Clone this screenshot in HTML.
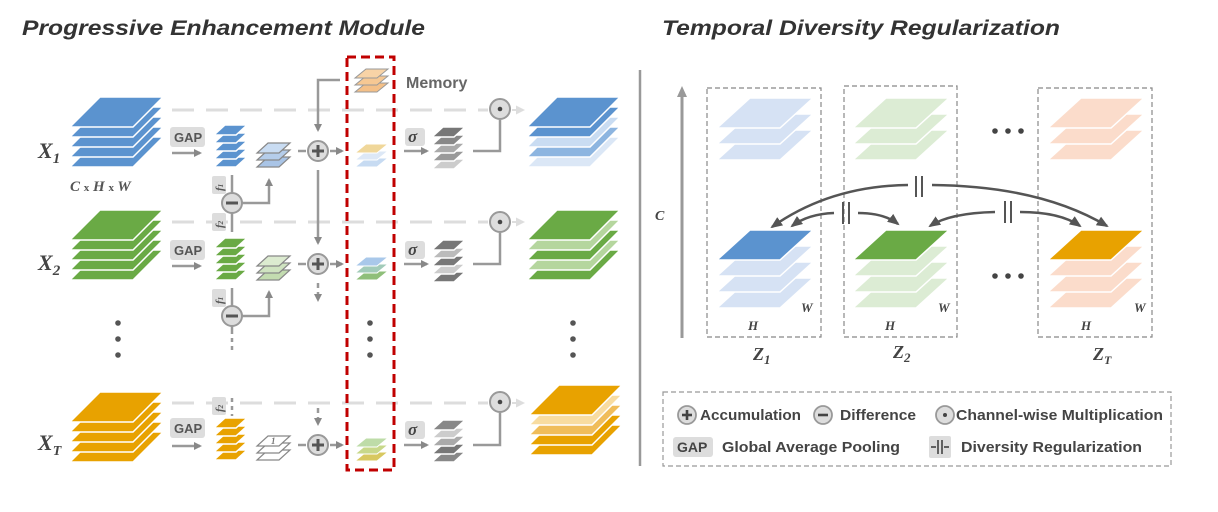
<!DOCTYPE html>
<html><head><meta charset="utf-8"><style>
html,body{margin:0;padding:0;background:#fff;}
svg{display:block;}
text{font-family:"Liberation Sans",sans-serif;}
.ser{font-family:"Liberation Serif",serif;font-style:italic;font-weight:bold;}
</style></head><body>
<svg id="s" width="1218" height="512" viewBox="0 0 1218 512" xmlns="http://www.w3.org/2000/svg">
<defs>
<marker id="ah" markerWidth="8" markerHeight="8" refX="6" refY="4" orient="auto" markerUnits="userSpaceOnUse"><path d="M0,0 L8,4 L0,8 z" fill="#888"/></marker>
<marker id="ahd" markerWidth="12" markerHeight="10" refX="10" refY="5" orient="auto" markerUnits="userSpaceOnUse"><path d="M0,0 L12,5 L0,10 z" fill="#555"/></marker>
<marker id="ahl" markerWidth="9" markerHeight="9" refX="6" refY="4.5" orient="auto" markerUnits="userSpaceOnUse"><path d="M0,0 L9,4.5 L0,9 z" fill="#ddd"/></marker>
</defs>
<g id="shapes"></g>

<!-- titles -->
<text x="22" y="35" font-size="21" font-weight="bold" font-style="italic" fill="#333" textLength="403" lengthAdjust="spacingAndGlyphs">Progressive Enhancement Module</text>
<text x="662" y="35" font-size="21" font-weight="bold" font-style="italic" fill="#333" textLength="398" lengthAdjust="spacingAndGlyphs">Temporal Diversity Regularization</text>

<!-- separator -->
<line x1="640" y1="70" x2="640" y2="466" stroke="#999" stroke-width="2.5"/>

<!-- dashed light lines -->
<g stroke="#ddd" stroke-width="3" stroke-dasharray="22,12" fill="none">
<line x1="172" y1="110" x2="488" y2="110"/>
<line x1="172" y1="222" x2="488" y2="222"/>
<line x1="172" y1="403" x2="488" y2="403"/>
</g>
<g stroke="#ddd" stroke-width="2" marker-end="url(#ahl)">
<line x1="512" y1="110" x2="522" y2="110"/>
<line x1="512" y1="222" x2="522" y2="222"/>
<line x1="512" y1="403" x2="522" y2="403"/>
</g>

<!-- labels X -->
<text class="ser" x="38" y="158" font-size="22" fill="#444">X<tspan font-size="15" dy="5">1</tspan></text>
<text class="ser" x="38" y="270" font-size="22" fill="#444">X<tspan font-size="15" dy="5">2</tspan></text>
<text class="ser" x="38" y="450" font-size="22" fill="#444">X<tspan font-size="14" dy="5">T</tspan></text>
<text class="ser" x="70" y="191" font-size="15" fill="#555">C <tspan font-size="11" font-style="normal">x</tspan> H <tspan font-size="11" font-style="normal">x</tspan> W</text>

<!-- GAP boxes and arrows -->
<g font-size="13" font-weight="bold" fill="#555">
<rect x="170" y="127" width="35" height="20" rx="3" fill="#ddd"/><text x="174" y="142">GAP</text>
<rect x="170" y="240" width="35" height="20" rx="3" fill="#ddd"/><text x="174" y="255">GAP</text>
<rect x="170" y="418" width="35" height="20" rx="3" fill="#ddd"/><text x="174" y="433">GAP</text>
</g>
<g stroke="#999" stroke-width="2.5" marker-end="url(#ah)" fill="none">
<line x1="172" y1="153" x2="200" y2="153"/>
<line x1="172" y1="266" x2="200" y2="266"/>
<line x1="172" y1="446" x2="200" y2="446"/>
</g>

<!-- vertical f lines & minus -->
<g stroke="#999" stroke-width="2.5" fill="none">
<line x1="232" y1="175" x2="232" y2="232"/>
<line x1="232" y1="288" x2="232" y2="330"/>
<line x1="232" y1="330" x2="232" y2="350" stroke-dasharray="4,4"/>
<line x1="232" y1="398" x2="232" y2="416" stroke-dasharray="4,4"/>
<polyline points="242,203 269,203 269,180" marker-end="url(#ah)"/>
<polyline points="242,316 269,316 269,292" marker-end="url(#ah)"/>
</g>
<g font-size="11" fill="#555">
<rect x="212" y="176" width="14" height="18" rx="2" fill="#ddd"/><text class="ser" x="213" y="189" font-size="11" fill="#555" transform="rotate(-90 219 185)">f<tspan font-size="7">1</tspan></text>
<rect x="212" y="213" width="14" height="18" rx="2" fill="#ddd"/><text class="ser" x="213" y="226" font-size="11" fill="#555" transform="rotate(-90 219 222)">f<tspan font-size="7">2</tspan></text>
<rect x="212" y="289" width="14" height="18" rx="2" fill="#ddd"/><text class="ser" x="213" y="302" font-size="11" fill="#555" transform="rotate(-90 219 298)">f<tspan font-size="7">1</tspan></text>
<rect x="212" y="397" width="14" height="18" rx="2" fill="#ddd"/><text class="ser" x="213" y="410" font-size="11" fill="#555" transform="rotate(-90 219 406)">f<tspan font-size="7">2</tspan></text>
</g>
<g fill="#ddd" stroke="#999" stroke-width="2">
<circle cx="232" cy="203" r="10"/><circle cx="232" cy="316" r="10"/>
</g>
<g stroke="#555" stroke-width="3"><line x1="226" y1="203" x2="238" y2="203"/><line x1="226" y1="316" x2="238" y2="316"/></g>

<!-- plus circles & memory vertical lines -->
<g stroke="#999" stroke-width="2.5" fill="none">
<polyline points="340,80 318,80 318,130" marker-end="url(#ah)"/>
<line x1="318" y1="170" x2="318" y2="243" marker-end="url(#ah)"/>
<line x1="318" y1="283" x2="318" y2="300" stroke-dasharray="5,4" marker-end="url(#ah)"/>
<line x1="318" y1="408" x2="318" y2="424" stroke-dasharray="5,4" marker-end="url(#ah)"/>
<line x1="298" y1="151" x2="306" y2="151"/><line x1="298" y1="264" x2="306" y2="264"/><line x1="298" y1="445" x2="306" y2="445"/>
<line x1="330" y1="151" x2="342" y2="151" marker-end="url(#ah)"/>
<line x1="330" y1="264" x2="342" y2="264" marker-end="url(#ah)"/>
<line x1="330" y1="445" x2="342" y2="445" marker-end="url(#ah)"/>
</g>
<g fill="#ddd" stroke="#999" stroke-width="2">
<circle cx="318" cy="151" r="10"/><circle cx="318" cy="264" r="10"/><circle cx="318" cy="445" r="10"/>
</g>
<g stroke="#555" stroke-width="3">
<line x1="312" y1="151" x2="324" y2="151"/><line x1="318" y1="145" x2="318" y2="157"/>
<line x1="312" y1="264" x2="324" y2="264"/><line x1="318" y1="258" x2="318" y2="270"/>
<line x1="312" y1="445" x2="324" y2="445"/><line x1="318" y1="439" x2="318" y2="451"/>
</g>

<!-- memory box -->
<rect x="347" y="57" width="47" height="413" fill="none" stroke="#c00000" stroke-width="3" stroke-dasharray="9,5"/>
<text x="406" y="88" font-size="16" font-weight="bold" fill="#666">Memory</text>
<g fill="#555"><circle cx="370" cy="323" r="2.8"/><circle cx="370" cy="339" r="2.8"/><circle cx="370" cy="355" r="2.8"/>
<circle cx="118" cy="323" r="2.8"/><circle cx="118" cy="339" r="2.8"/><circle cx="118" cy="355" r="2.8"/>
<circle cx="573" cy="323" r="2.8"/><circle cx="573" cy="339" r="2.8"/><circle cx="573" cy="355" r="2.8"/></g>

<!-- sigma -->
<g>
<rect x="405" y="128" width="20" height="18" rx="3" fill="#ddd"/><text class="ser" x="408" y="142" font-size="17" fill="#444">σ</text>
<rect x="405" y="241" width="20" height="18" rx="3" fill="#ddd"/><text class="ser" x="408" y="255" font-size="17" fill="#444">σ</text>
<rect x="405" y="421" width="20" height="18" rx="3" fill="#ddd"/><text class="ser" x="408" y="435" font-size="17" fill="#444">σ</text>
</g>
<g stroke="#999" stroke-width="2.5" fill="none">
<line x1="404" y1="151" x2="427" y2="151" marker-end="url(#ah)"/>
<line x1="404" y1="264" x2="427" y2="264" marker-end="url(#ah)"/>
<line x1="404" y1="445" x2="427" y2="445" marker-end="url(#ah)"/>
<polyline points="473,151 500,151 500,120"/>
<polyline points="473,264 500,264 500,233"/>
<polyline points="473,445 500,445 500,413"/>
</g>
<g fill="#ddd" stroke="#999" stroke-width="2">
<circle cx="500" cy="109" r="10"/><circle cx="500" cy="222" r="10"/><circle cx="500" cy="402" r="10"/>
</g>
<g fill="#444"><circle cx="500" cy="109" r="2.3"/><circle cx="500" cy="222" r="2.3"/><circle cx="500" cy="402" r="2.3"/></g>

<!-- right panel -->
<line x1="682" y1="338" x2="682" y2="96" stroke="#999" stroke-width="3"/>
<path d="M677,97 L682,86 L687,97 z" fill="#999"/>
<text class="ser" x="655" y="220" font-size="14" fill="#444">C</text>
<g fill="none" stroke="#888" stroke-width="1.2" stroke-dasharray="5,3">
<rect x="707" y="88" width="114" height="249"/>
<rect x="844" y="86" width="113" height="251"/>
<rect x="1038" y="88" width="114" height="249"/>
</g>
<g fill="#444"><circle cx="995" cy="131" r="2.8"/><circle cx="1008" cy="131" r="2.8"/><circle cx="1021" cy="131" r="2.8"/>
<circle cx="995" cy="276" r="2.8"/><circle cx="1008" cy="276" r="2.8"/><circle cx="1021" cy="276" r="2.8"/></g>
<g class="ser" font-size="13" fill="#444">
<text class="ser" x="748" y="330">H</text><text class="ser" x="885" y="330">H</text><text class="ser" x="1081" y="330">H</text>
<text class="ser" x="801" y="312">W</text><text class="ser" x="938" y="312">W</text><text class="ser" x="1134" y="312">W</text>
</g>
<text class="ser" x="753" y="360" font-size="18" fill="#444">Z<tspan font-size="13" dy="4">1</tspan></text>
<text class="ser" x="893" y="358" font-size="18" fill="#444">Z<tspan font-size="13" dy="4">2</tspan></text>
<text class="ser" x="1093" y="360" font-size="18" fill="#444">Z<tspan font-size="12" dy="4">T</tspan></text>

<g id="arcs" fill="none" stroke="#555" stroke-width="2.5">
<path d="M908,185 Q830,186 772,227" marker-end="url(#ahd)"/>
<path d="M932,185 Q1040,186 1107,226" marker-end="url(#ahd)"/>
<path d="M834,213 Q808,214 792,226" marker-end="url(#ahd)"/>
<path d="M858,213 Q884,213 898,224" marker-end="url(#ahd)"/>
<path d="M995,212 Q950,213 930,226" marker-end="url(#ahd)"/>
<path d="M1020,212 Q1060,212 1080,226" marker-end="url(#ahd)"/>
</g>
<g stroke="#555" stroke-width="2">
<line x1="916" y1="176" x2="916" y2="197"/><line x1="922" y1="176" x2="922" y2="197"/>
<line x1="843" y1="202" x2="843" y2="224"/><line x1="849" y1="202" x2="849" y2="224"/>
<line x1="1005" y1="201" x2="1005" y2="223"/><line x1="1011" y1="201" x2="1011" y2="223"/>
</g>

<!-- legend -->
<rect x="663" y="392" width="508" height="74" fill="none" stroke="#999" stroke-width="1.2" stroke-dasharray="5,3"/>
<g fill="#ddd" stroke="#999" stroke-width="1.8">
<circle cx="687" cy="415" r="9"/><circle cx="823" cy="415" r="9"/><circle cx="945" cy="415" r="9"/>
</g>
<g stroke="#444" stroke-width="2.6"><line x1="682" y1="415" x2="692" y2="415"/><line x1="687" y1="410" x2="687" y2="420"/><line x1="818" y1="415" x2="828" y2="415"/></g>
<circle cx="945" cy="415" r="2" fill="#444"/>
<rect x="673" y="437" width="40" height="20" rx="3" fill="#ddd"/>
<text x="677" y="452" font-size="14" font-weight="bold" fill="#444">GAP</text>
<rect x="929" y="436" width="22" height="22" rx="2" fill="#ddd"/>
<g stroke="#444" stroke-width="1.6"><line x1="938" y1="440" x2="938" y2="454"/><line x1="942" y1="440" x2="942" y2="454"/><line x1="931" y1="447" x2="936" y2="447"/><line x1="944" y1="447" x2="949" y2="447"/></g>
<g font-size="15" font-weight="bold" fill="#444">
<text x="700" y="420" textLength="101" lengthAdjust="spacingAndGlyphs">Accumulation</text>
<text x="840" y="420" textLength="76" lengthAdjust="spacingAndGlyphs">Difference</text>
<text x="956" y="420" textLength="207" lengthAdjust="spacingAndGlyphs">Channel-wise Multiplication</text>
<text x="722" y="452" textLength="178" lengthAdjust="spacingAndGlyphs">Global Average Pooling</text>
<text x="961" y="452" textLength="181" lengthAdjust="spacingAndGlyphs">Diversity Regularization</text>
</g>
<text class="ser" x="271" y="444" font-size="9" fill="#777">1</text>
</svg>
<script>
var NS="http://www.w3.org/2000/svg";
var g=document.getElementById("shapes");
function poly(x,y,w,h,sk,fill,stroke,sw){
 var p=document.createElementNS(NS,"polygon");
 p.setAttribute("points",x+","+y+" "+(x+w)+","+y+" "+(x+w+sk)+","+(y-h)+" "+(x+sk)+","+(y-h));
 p.setAttribute("fill",fill);p.setAttribute("stroke",stroke||"#fff");p.setAttribute("stroke-width",sw||1.5);
 g.appendChild(p);
}
// colors: array top->bottom
function stack(x,yb,w,h,sk,step,cols,stroke,sw){
 for(var i=cols.length-1;i>=0;i--) poly(x,yb+i*step,w,h,sk,cols[i],stroke,sw);
}
function rep(c,n){var a=[];for(var i=0;i<n;i++)a.push(c);return a;}
var B="#5b93cf",G="#6aaa45",O="#e8a200";
// big inputs
stack(70,127,63,30,30,10,rep(B,5));
stack(70,240,63,30,30,10,rep(G,5));
stack(70,422,63,30,30,10,rep(O,5));
// GAP small
stack(214,135,22,10,11,8,rep(B,5));
stack(214,248,22,10,11,8,rep(G,5));
stack(214,428,22,10,11,8,rep(O,5));
// diff stacks
stack(257,153,22,10,11,7,["#c9dcf2","#b5cdea","#a9c4e6"],"#888",1.2);
stack(257,266,22,10,11,7,["#dcebd0","#cfe3c0","#c3dcb0"],"#888",1.2);
stack(257,446,22,10,11,7,["#fff","#fff","#fff"],"#888",1.2);
// memory
stack(355,78,22,9,11,7,["#f8d3a6","#f6c893","#f4c088"],"#999",1);
stack(355,153,22,9,11,7,["#f0d79a","#dde8f6","#c7dbf2"],"#fff",1);
stack(355,266,22,9,11,7,["#a9c8ea","#a2cbb9","#8fbf7a"],"#fff",1);
stack(355,447,22,9,11,7,["#bedca8","#c8d88a","#d8c860"],"#fff",1);
// sigma gray stacks
stack(432,137,22,10,11,8,["#777","#888","#aaa","#999","#ccc"]);
stack(432,250,22,10,11,8,["#777","#bbb","#777","#ccc","#777"]);
stack(432,430,22,10,11,8,["#888","#ccc","#aaa","#777","#888"]);
// outputs
stack(527,127,63,30,30,10,[B,B,"#c9dcf2","#8db5e0","#dbe7f6"]);
stack(527,240,63,30,30,10,[G,"#b5d69e",G,"#b5d69e",G]);
stack(529,415,63,30,30,10,[O,"#f8dca0","#f0bd5a",O,O]);
// right panel top stacks
function rstack(x,yb,cols){stack(x,yb,63,30,33,16,cols);}
var LB="#d6e2f4",LG="#dcecd4",LO="#fbdccb";
rstack(717,128,rep(LB,3));
rstack(853,128,rep(LG,3));
rstack(1048,128,rep(LO,3));
rstack(717,260,[B,LB,LB,LB]);
rstack(853,260,[G,LG,LG,LG]);
rstack(1048,260,[O,LO,LO,LO]);
</script>
</body></html>
